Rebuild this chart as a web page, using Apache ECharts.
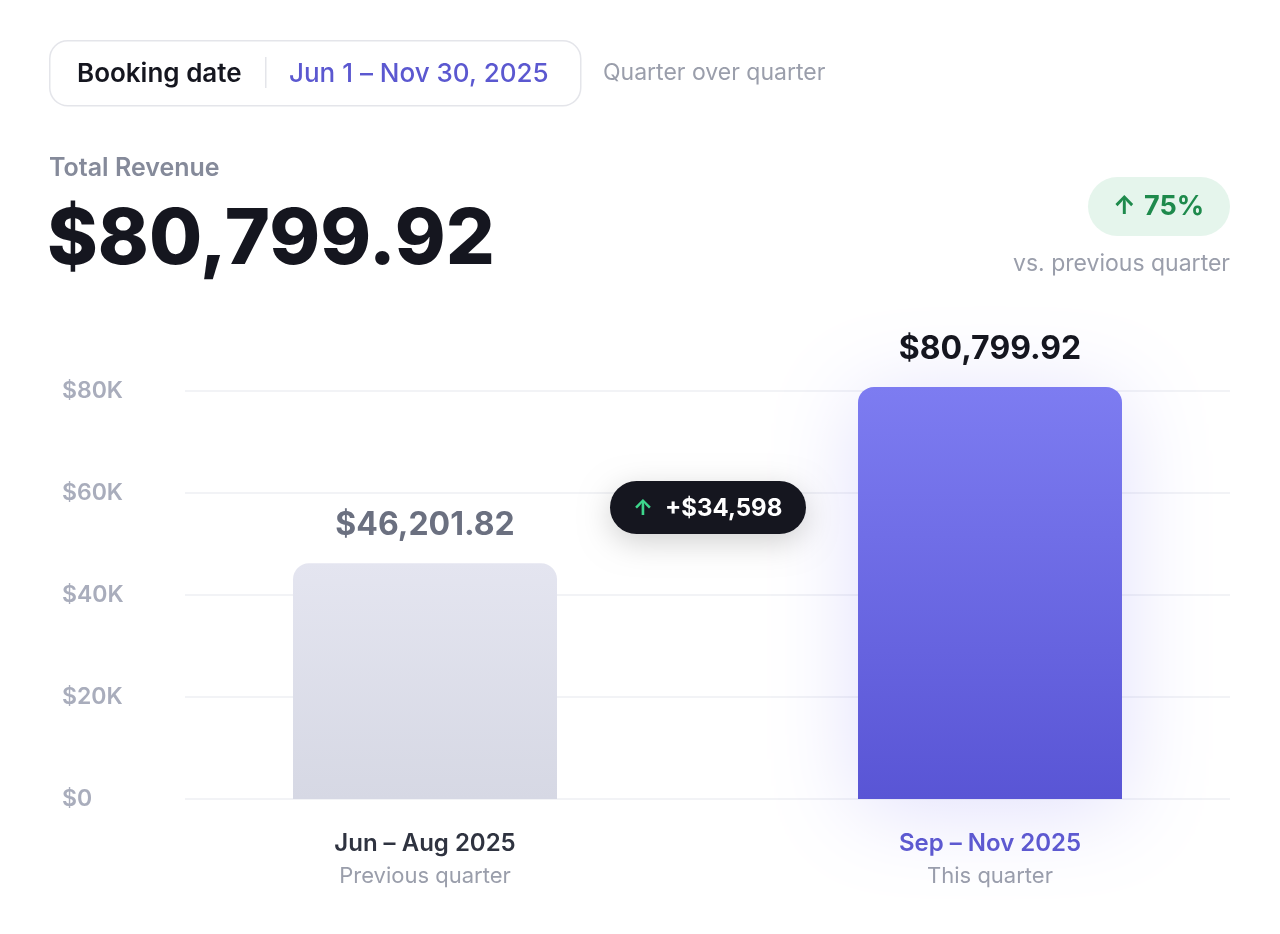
<!DOCTYPE html>
<html>
<head>
<meta charset="utf-8">
<script src="https://cdn.jsdelivr.net/npm/echarts@6/dist/echarts.min.js"></script>
<style>
html,body{margin:0;padding:0;background:#fff;}
#chart{width:1280px;height:934px;}
</style>
</head>
<body>
<div id="chart"></div>
<script>
const categories = ['Jun – Aug 2025', 'Sep – Nov 2025'];
const subLabels = ['Previous quarter', 'This quarter'];
const revenue = [46201.82, 80799.92];
const yTicks = [0, 20000, 40000, 60000, 80000];
const headerTexts = { filter: 'Booking date', range: 'Jun 1 – Nov 30, 2025', mode: 'Quarter over quarter', title: 'Total Revenue', compare: 'vs. previous quarter' };

const FONT = 'Inter, "Noto Sans", sans-serif';
const fmtMoney = v => '$' + v.toLocaleString('en-US', {minimumFractionDigits: 2, maximumFractionDigits: 2});
const delta = revenue[1] - revenue[0];
const pct = Math.round(delta / revenue[0] * 100);

const chart = echarts.init(document.getElementById('chart'), null, {renderer: 'canvas'});

const option = {
  backgroundColor: '#ffffff',
  animation: false,
  grid: [
    {left: 185, right: 50, top: 391, bottom: 135},
    {left: 142.5, right: 7.5, top: 391, bottom: 135}
  ],
  xAxis: [
    {gridIndex: 0, type: 'category', data: categories, show: false},
    {
      gridIndex: 1, type: 'category', data: categories,
      axisLine: {show: false}, axisTick: {show: false},
      axisLabel: {
        margin: 29,
        formatter: (v, i) => '{' + (i === 1 ? 'c' : 'a') + '|' + v + '}\n{b|' + subLabels[i] + '}',
        rich: {
          a: {fontFamily: FONT, fontSize: 24, fontWeight: 600, color: '#2F3340', lineHeight: 32},
          c: {fontFamily: FONT, fontSize: 24, fontWeight: 600, color: '#5D59CF', lineHeight: 32},
          b: {fontFamily: FONT, fontSize: 22, fontWeight: 400, color: '#9A9EAB', lineHeight: 32}
        }
      }
    }
  ],
  yAxis: [
    {
      gridIndex: 0, type: 'value', min: yTicks[0], max: yTicks[yTicks.length - 1], interval: yTicks[1] - yTicks[0],
      axisLine: {show: false}, axisTick: {show: false},
      splitLine: {lineStyle: {color: '#EEEFF3', width: 1.5}},
      axisLabel: {
        align: 'left', margin: 123,
        fontFamily: FONT, fontSize: 23, fontWeight: 600, color: '#A9ADBC',
        formatter: v => v === 0 ? '$0' : '$' + (v / 1000) + 'K'
      }
    },
    {
      gridIndex: 1, type: 'value', min: yTicks[0], max: yTicks[yTicks.length - 1], interval: yTicks[1] - yTicks[0],
      show: false, splitLine: {show: false}
    }
  ],
  series: [{
    type: 'bar',
    xAxisIndex: 1, yAxisIndex: 1,
    barWidth: 264,
    clip: false,
    data: revenue.map((v, i) => ({
      value: v,
      itemStyle: i === 1 ? {
        borderRadius: [16, 16, 0, 0],
        color: new echarts.graphic.LinearGradient(0, 0, 0, 1, [
          {offset: 0, color: '#7D7CF1'}, {offset: 1, color: '#5955D5'}
        ]),
        shadowBlur: 90, shadowColor: 'rgba(100,92,240,0.2)', shadowOffsetY: 10
      } : {
        borderRadius: [16, 16, 0, 0],
        color: new echarts.graphic.LinearGradient(0, 0, 0, 1, [
          {offset: 0, color: '#E4E5F0'}, {offset: 1, color: '#D6D8E4'}
        ])
      },
      label: {
        show: true, position: 'top', distance: 22,
        formatter: p => fmtMoney(p.value),
        fontFamily: FONT, fontSize: 32, fontWeight: 700,
        color: i === 1 ? '#15161F' : '#6B7080'
      }
    }))
  }],
  graphic: {elements: [
    // header filter box
    {type: 'rect', z: 100, left: 49, top: 40, shape: {width: 531, height: 65, r: 18},
     style: {fill: '#fff', stroke: '#E4E5EA', lineWidth: 1.5}},
    {type: 'text', z: 101, left: 77, top: 61, style: {text: headerTexts.filter, font: '600 26px ' + FONT, fill: '#15161F'}},
    {type: 'rect', z: 101, left: 265, top: 57, shape: {width: 1.5, height: 31}, style: {fill: '#E4E5EA'}},
    {type: 'text', z: 101, left: 289, top: 61, style: {text: headerTexts.range, font: '500 26px ' + FONT, fill: '#5B58D0'}},
    {type: 'text', z: 101, left: 603, top: 62, style: {text: headerTexts.mode, font: '400 23px ' + FONT, fill: '#9A9EAB'}},
    // total
    {type: 'text', z: 101, left: 49, top: 156, style: {text: headerTexts.title, font: '600 25px ' + FONT, fill: '#858A9A'}},
    {type: 'text', z: 101, left: 47, top: 202, style: {text: fmtMoney(revenue[1]), font: '800 77px ' + FONT, fill: '#15161F'}},
    // percent badge
    {type: 'rect', z: 100, left: 1088, top: 177, shape: {width: 142, height: 59, r: 29.5}, style: {fill: '#E5F5EC'}},
    {type: 'text', z: 101, left: 1113, top: 194, style: {text: '↑', font: '700 25px ' + FONT, fill: '#1E8A4C'}},
    {type: 'text', z: 101, left: 1144, top: 193, style: {text: pct + '%', font: '700 27px ' + FONT, fill: '#1E8A4C'}},
    {type: 'text', z: 101, right: 50, top: 253, style: {text: headerTexts.compare, font: '400 23px ' + FONT, fill: '#9A9EAB', align: 'right'}},
    // delta pill
    {type: 'rect', z: 100, left: 610, top: 481, shape: {width: 196, height: 53, r: 26.5},
     style: {fill: '#15161F', shadowBlur: 30, shadowColor: 'rgba(0,0,0,0.18)', shadowOffsetY: 8}},
    {type: 'text', z: 101, left: 633, top: 497, style: {text: '↑', font: '700 22px ' + FONT, fill: '#3DD68C'}},
    {type: 'text', z: 101, left: 665, top: 497, style: {text: '+$' + Math.round(delta).toLocaleString('en-US'), font: '700 24px ' + FONT, fill: '#ffffff'}}
  ]}
};
chart.setOption(option);
</script>
</body>
</html>
